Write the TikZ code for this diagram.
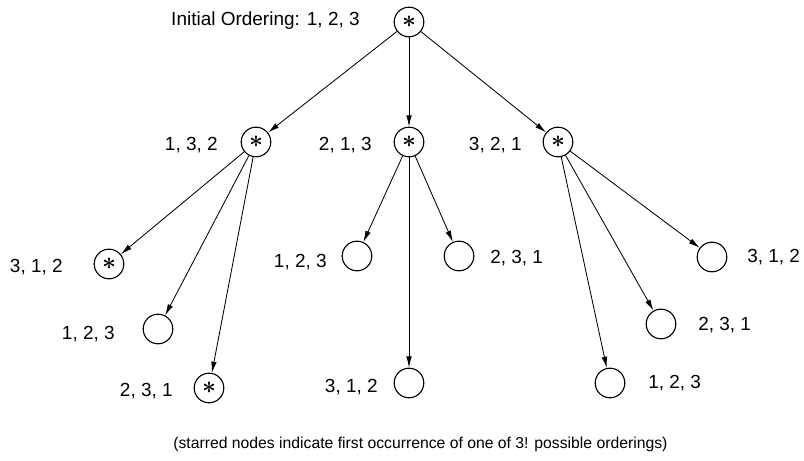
\documentclass[tikz,border=0pt]{standalone}
\usepackage{fontspec}
\setmainfont{Liberation Sans}
\usetikzlibrary{arrows.meta}
\begin{document}
\begin{tikzpicture}[
    state/.style={draw, circle, minimum size=0.74cm, inner sep=0pt, thick},
    star/.style={state, font=\fontsize{19}{19}\selectfont\boldmath},
    tag/.style={inner sep=0pt, font=\fontsize{13.5}{15}\selectfont},
    edge/.style={-{Latex[length=8pt,width=4pt]}, semithick}
  ]
\useasboundingbox (0,0) rectangle (20.1,11.525);

%Nodes
\node (root) at (10.225,10.975) [star] {$\ast$};
\node (n132) at (6.4,7.975) [star] {$\ast$};
\node (n213) at (10.225,7.975) [star] {$\ast$};
\node (n321) at (13.95,7.975) [star] {$\ast$};
%Left
\node (l312) at (2.725,4.925) [star] {$\ast$};
\node (l123) at (3.95,3.3) [state] {};
\node (l231) at (5.225,1.825) [star] {$\ast$};
%Middle
\node (m123) at (8.925,5.125) [state] {};
\node (m231) at (11.475,5.125) [state] {};
\node (m312) at (10.225,1.95) [state] {};
%Right
\node (r312) at (17.8,5.1) [state] {};
\node (r231) at (16.525,3.425) [state] {};
\node (r123) at (15.25,1.95) [state] {};

%Names
\node (troot) at (9.0,11.0) [anchor=east, tag] {Initial Ordering: 1, 2, 3};
\node (t132) at (5.45,7.9) [anchor=east, tag] {1, 3, 2};
\node (t213) at (9.3,7.9) [anchor=east, tag] {2, 1, 3};
\node (t321) at (13.05,7.9) [anchor=east, tag] {3, 2, 1};
\node (tl312) at (1.575,4.85) [anchor=east, tag] {3, 1, 2};
\node (tl123) at (2.875,3.175) [anchor=east, tag] {1, 2, 3};
\node (tl231) at (4.325,1.75) [anchor=east, tag] {2, 3, 1};
\node (tm123) at (8.175,4.975) [anchor=east, tag] {1, 2, 3};
\node (tm231) at (12.25,5.075) [anchor=west, tag] {2, 3, 1};
\node (tm312) at (9.45,1.85) [anchor=east, tag] {3, 1, 2};
\node (tr312) at (18.675,5.1) [anchor=west, tag] {3, 1, 2};
\node (tr231) at (17.45,3.4) [anchor=west, tag] {2, 3, 1};
\node (tr123) at (16.2,1.95) [anchor=west, tag] {1, 2, 3};

\node (note) at (10.51,0.42) [inner sep=0pt, font=\fontsize{11.2}{13}\selectfont]
  {(starred nodes indicate first occurrence of one of 3! possible orderings)};

%Arrows
\foreach \a/\b in {root/n132, root/n213, root/n321,
                   n132/l312, n132/l123, n132/l231,
                   n213/m123, n213/m231, n213/m312,
                   n321/r312, n321/r231, n321/r123}
  \draw [edge] (\a) -- (\b);

\end{tikzpicture}
\end{document}
